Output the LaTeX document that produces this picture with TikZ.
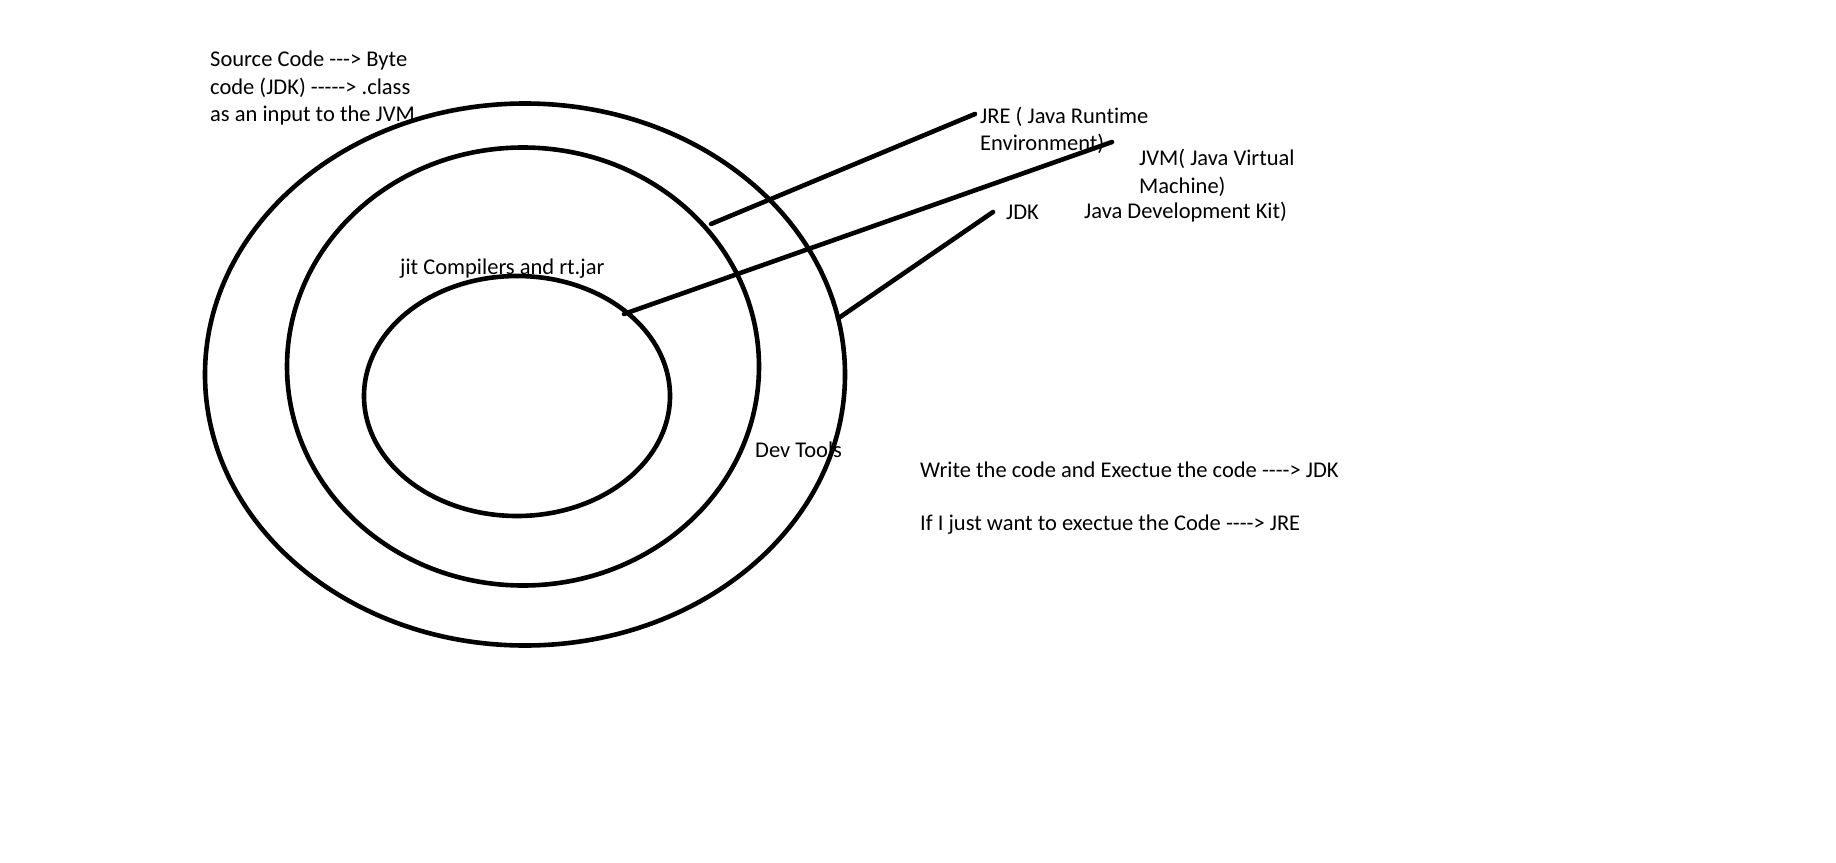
\documentclass[tikz,border=0pt]{standalone}
\usepackage{fontspec}
\newfontfamily\calfont{Carlito}[Ligatures=CommonOff]
\usetikzlibrary{shapes.geometric}
\begin{document}
\begin{tikzpicture}[x=1pt,y=-1pt,
  ring/.style={draw=black, line width=4.6pt, ellipse, inner sep=0pt, outer sep=0pt},
  link/.style={draw=black, line width=4.6pt, line cap=round},
  lbl/.style={anchor=west, inner sep=0pt, align=left, font=\calfont\fontsize{22.5}{27.5}\selectfont}]
\useasboundingbox[fill=white] (0,0) rectangle (1836,862);
% rings
\node[ring, minimum width=640pt, minimum height=542pt] (jdk) at (525,374.5) {};
\node[ring, minimum width=472pt, minimum height=438pt] (jre) at (523,366.5) {};
\node[ring, minimum width=306pt, minimum height=240pt] (jvm) at (517,396) {};
% texts
\node[lbl, anchor=north west] (src) at (210,51) {Source Code ---> Byte\\code (JDK) -----> .class\\as an input to the JVM};
\node[lbl, anchor=north west] (jretxt) at (980,106.5) {JRE ( Java Runtime\\Environment)};
\node[lbl, anchor=north west] (jvmtxt) at (1139,149) {JVM( Java Virtual\\Machine)};
\node[lbl] (jdktxt) at (1006,212) {JDK};
\node[lbl] (jdkfull) at (1084,212) {Java Development Kit)};
\node[lbl] (jit) at (400,269) {jit Compilers and rt.jar};
\node[lbl] (dev) at (755,450) {Dev Tools};
\node[lbl] (w1) at (920,470) {Write the code and Exectue the code ----> JDK};
\node[lbl] (w2) at (920,525) {If I just want to exectue the Code ----> JRE};
% connector ends
\coordinate (jreA) at (711,224);
\coordinate (jreB) at (975,114);
\coordinate (jvmA) at (624,314);
\coordinate (jvmB) at (1112,142);
\coordinate (jdkA) at (838,318.5);
\coordinate (jdkB) at (993,212);
\draw[link] (jreA) -- (jreB);
\draw[link] (jvmA) -- (jvmB);
\draw[link] (jdkA) -- (jdkB);
\end{tikzpicture}
\end{document}
